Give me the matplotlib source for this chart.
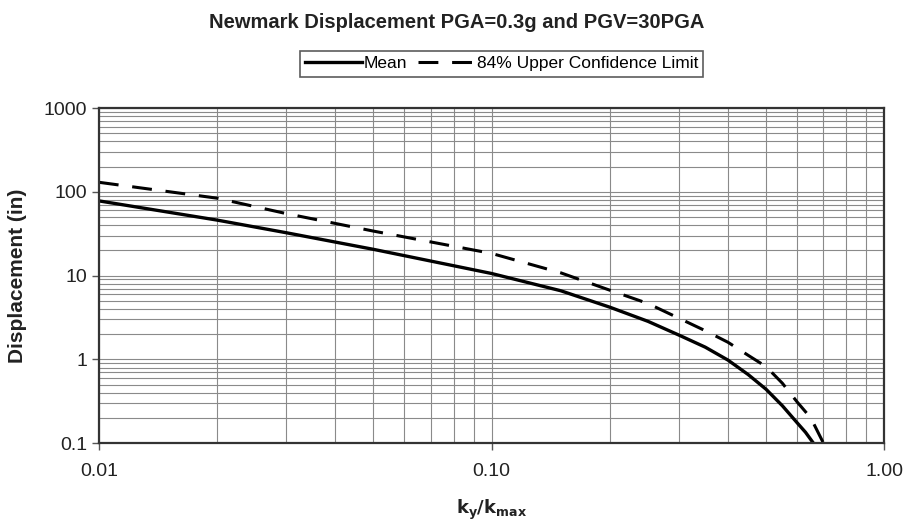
import matplotlib.pyplot as plt
from matplotlib.ticker import FixedLocator, FixedFormatter, LogLocator, NullFormatter

plt.rcParams['font.family'] = ['Liberation Sans', 'DejaVu Sans']

# readings from the reference chart
ky_mean = [0.01, 0.02, 0.03, 0.05, 0.10, 0.15, 0.20, 0.25, 0.30, 0.35, 0.40,
           0.45, 0.50, 0.55, 0.60, 0.63, 0.66]
disp_mean = [78, 46, 32.5, 20.6, 10.6, 6.6, 4.2, 2.85, 1.95, 1.40, 0.98,
             0.66, 0.44, 0.28, 0.175, 0.135, 0.1]

ky_ucl = [0.01, 0.02, 0.03, 0.05, 0.10, 0.15, 0.20, 0.25, 0.30, 0.35, 0.40,
          0.45, 0.50, 0.55, 0.60, 0.65, 0.70]
disp_ucl = [130, 84, 55, 34, 18.4, 10.8, 6.7, 4.65, 3.1, 2.2, 1.6,
            1.12, 0.82, 0.52, 0.31, 0.2, 0.1]

x_ticks = [0.01, 0.1, 1.0]
x_labels = ["0.01", "0.10", "1.00"]
y_ticks = [0.1, 1, 10, 100, 1000]
y_labels = ["0.1", "1", "10", "100", "1000"]

fig = plt.figure(figsize=(9.07, 5.27), dpi=100)
ax = fig.add_axes([0.109, 0.159, 0.866, 0.636])

ax.plot(ky_mean, disp_mean, color="black", lw=2.4, label="Mean",
        solid_joinstyle="round")
ax.plot(ky_ucl, disp_ucl, color="black", lw=2.2, linestyle=(0, (6.5, 4.5)),
        label="84% Upper Confidence Limit")

ax.set_xscale("log")
ax.set_yscale("log")
ax.set_xlim(0.01, 1.0)
ax.set_ylim(0.1, 1000)

ax.xaxis.set_major_locator(FixedLocator(x_ticks))
ax.xaxis.set_major_formatter(FixedFormatter(x_labels))
ax.yaxis.set_major_locator(FixedLocator(y_ticks))
ax.yaxis.set_major_formatter(FixedFormatter(y_labels))
ax.xaxis.set_minor_locator(LogLocator(base=10, subs=range(2, 10)))
ax.yaxis.set_minor_locator(LogLocator(base=10, subs=range(2, 10)))
ax.xaxis.set_minor_formatter(NullFormatter())
ax.yaxis.set_minor_formatter(NullFormatter())

ax.grid(True, which="both", color="#8a8a8a", lw=0.8)
ax.tick_params(which="minor", length=0)
ax.tick_params(which="major", length=5, width=1, color="#555555", labelsize=14,
               labelcolor="#222222")
ax.tick_params(axis="x", pad=9)
for s in ax.spines.values():
    s.set_color("#333333")
    s.set_linewidth(1.6)

ax.set_xlabel(r"$\mathbf{k_y/k_{max}}$", fontsize=13, labelpad=13, color="#222222")
ax.set_ylabel("Displacement (in)", fontsize=15, fontweight="bold", labelpad=12,
              color="#222222")

fig.text(0.503, 0.958, "Newmark Displacement PGA=0.3g and PGV=30PGA",
         ha="center", va="center", fontsize=14.5, fontweight="bold", color="#222222")

leg = fig.legend(loc="center", bbox_to_anchor=(0.553, 0.879), ncol=2, fontsize=12.5,
                 frameon=True, fancybox=False, edgecolor="#333333",
                 handlelength=3.3, handletextpad=0.1, columnspacing=0.6,
                 borderpad=0.3)
leg.get_frame().set_linewidth(1.2)

plt.savefig("out.png", dpi=100)
